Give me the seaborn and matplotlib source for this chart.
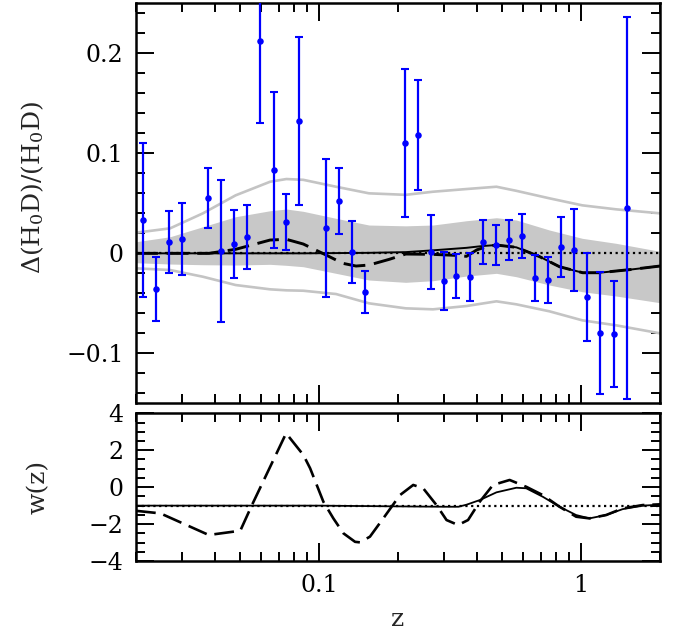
import numpy as np
import pandas as pd
import seaborn as sns
import matplotlib
matplotlib.use("Agg")
import matplotlib.pyplot as plt
from matplotlib.ticker import FixedLocator, FixedFormatter, MultipleLocator, NullFormatter, FuncFormatter

# binned data points
z_pts = [0.02125, 0.02375, 0.02668, 0.03001, 0.03770, 0.04223, 0.04747, 0.05319, 0.05963,
         0.06699, 0.07487, 0.08414, 0.1060, 0.1192, 0.1336, 0.1497, 0.2119, 0.2375, 0.2662,
         0.2983, 0.3343, 0.3757, 0.4209, 0.4718, 0.5287, 0.5941, 0.6658, 0.7487, 0.8414,
         0.9404, 1.057, 1.184, 1.331, 1.491]
d_pts = [0.033, -0.036, 0.011, 0.014, 0.055, 0.002, 0.009, 0.016, 0.212,
         0.083, 0.031, 0.132, 0.025, 0.052, 0.001, -0.039, 0.110, 0.118, 0.001,
         -0.028, -0.023, -0.024, 0.011, 0.008, 0.013, 0.017, -0.025, -0.027, 0.006,
         0.003, -0.044, -0.080, -0.081, 0.045]
e_pts = [0.077, 0.032, 0.031, 0.036, 0.030, 0.071, 0.034, 0.032, 0.082,
         0.078, 0.028, 0.084, 0.069, 0.033, 0.031, 0.021, 0.074, 0.055, 0.037,
         0.029, 0.022, 0.024, 0.022, 0.020, 0.020, 0.022, 0.023, 0.023, 0.030,
         0.041, 0.044, 0.061, 0.053, 0.191]

# confidence regions
z_band = [0.02, 0.027, 0.036, 0.048, 0.065, 0.075, 0.087, 0.116, 0.155, 0.214, 0.272,
          0.365, 0.475, 0.566, 0.757, 1.01, 1.36, 2.0]
band1_hi = [0.0116, 0.0166, 0.0266, 0.0366, 0.0426, 0.0443, 0.042, 0.035, 0.0283, 0.0275, 0.0283,
            0.0326, 0.0356, 0.0333, 0.0233, 0.015, 0.010, 0.002]
band1_lo = [-0.0094, -0.0107, -0.0114, -0.0117, -0.011, -0.012, -0.0134, -0.020, -0.0267, -0.029, -0.0274,
            -0.0227, -0.020, -0.0234, -0.0317, -0.0384, -0.0427, -0.0494]
band2_hi = [0.0206, 0.025, 0.040, 0.058, 0.0716, 0.0743, 0.0735, 0.0666, 0.060, 0.0585, 0.0616,
            0.0643, 0.0666, 0.0625, 0.055, 0.048, 0.044, 0.040]
band2_lo = [-0.015, -0.0167, -0.0234, -0.0317, -0.036, -0.037, -0.0374, -0.0407, -0.050, -0.055, -0.056,
            -0.0527, -0.048, -0.051, -0.058, -0.067, -0.072, -0.080]

# reconstructions, top panel
z_mean = [0.02, 0.087, 0.155, 0.214, 0.272, 0.365, 0.42, 0.475, 0.566, 0.694, 0.827, 1.014, 1.174, 1.572, 2.0]
d_mean = [0.0, 0.0, 0.0005, 0.0012, 0.003, 0.0055, 0.0073, 0.0083, 0.006, -0.0033, -0.0134, -0.0194, -0.0194, -0.016, -0.0127]
z_dash = [0.02, 0.038, 0.048, 0.065, 0.075, 0.087, 0.1063, 0.1231, 0.1383, 0.155, 0.1852, 0.214, 0.27,
          0.33, 0.365, 0.40, 0.44, 0.475, 0.566, 0.694, 0.827, 1.014, 1.174, 1.572, 2.0]
d_dash = [0.0, 0.0, 0.004, 0.0133, 0.014, 0.0093, -0.0017, -0.010, -0.0127, -0.0117, -0.006, -0.0007, -0.001,
          -0.002, -0.003, 0.0035, 0.007, 0.0083, 0.006, -0.0033, -0.0134, -0.0194, -0.0194, -0.016, -0.0127]

# w(z), bottom panel
z_wdash = [0.02, 0.0248, 0.0379, 0.0500, 0.0554, 0.0748, 0.0871, 0.0924, 0.1038, 0.1133, 0.1238, 0.1371,
           0.1432, 0.1563, 0.1757, 0.2034, 0.2286, 0.2495, 0.2805, 0.3063, 0.3391, 0.3701, 0.4101, 0.4608,
           0.5334, 0.6174, 0.7143, 0.8268, 0.9572, 1.0755, 1.245, 1.440, 1.716, 2.0]
w_dash = [-1.28, -1.42, -2.59, -2.36, -0.97, 2.92, 1.74, 1.02, -0.79, -1.69, -2.50, -2.96,
          -2.99, -2.68, -1.69, -0.43, 0.12, -0.06, -0.97, -1.78, -2.05, -1.78, -0.79, 0.12,
          0.39, 0.02, -0.43, -1.06, -1.60, -1.69, -1.51, -1.15, -0.97, -0.93]
z_wmean = [0.02, 0.1, 0.2, 0.3, 0.34, 0.365, 0.41, 0.475, 0.566, 0.617, 0.714, 0.827, 0.957, 1.0755,
           1.245, 1.44, 1.716, 2.0]
w_mean = [-1.0, -1.0, -1.04, -1.06, -1.06, -0.95, -0.70, -0.28, -0.03, -0.06, -0.52, -1.06, -1.51, -1.69,
          -1.51, -1.19, -1.0, -0.95]

x_ticks = [0.1, 1]
x_labels = ["0.1", "1"]

sns.set_theme(style="ticks")
plt.rcParams["font.family"] = ["DejaVu Serif"]
plt.rcParams["mathtext.fontset"] = "dejavuserif"
plt.rcParams["axes.unicode_minus"] = True

FS = 17
fig = plt.figure(figsize=(6.75, 6.3), dpi=100)
ax1 = fig.add_axes([0.2015, 0.3598, 0.7763, 0.6349])
ax2 = fig.add_axes([0.2015, 0.1095, 0.7763, 0.2344], sharex=ax1)

dash_style = (0, (7.5, 3.0))
dot_style = (0, (1, 1.6))

# top panel
ax1.fill_between(z_band, band1_lo, band1_hi, color="#c8c8c8", lw=0, zorder=1)
sns.lineplot(x=z_band, y=band2_hi, ax=ax1, color="#c4c4c4", lw=1.9, zorder=2)
sns.lineplot(x=z_band, y=band2_lo, ax=ax1, color="#c4c4c4", lw=1.9, zorder=2)
ax1.axhline(0, color="black", lw=1.6, linestyle=dot_style, zorder=3)
sns.lineplot(x=z_mean, y=d_mean, ax=ax1, color="black", lw=1.4, zorder=4)
sns.lineplot(x=z_dash, y=d_dash, ax=ax1, color="black", lw=2.1, linestyle=dash_style, zorder=4)
ax1.errorbar(z_pts, d_pts, yerr=e_pts, fmt="none", ecolor="#0000ff", elinewidth=1.6,
             capsize=3, capthick=1.5, zorder=5)
sns.scatterplot(x=z_pts, y=d_pts, ax=ax1, color="#0000ff", s=22, linewidth=0, zorder=6)

# bottom panel
ax2.axhline(-1, color="black", lw=1.6, linestyle=dot_style, zorder=2)
sns.lineplot(x=z_wmean, y=w_mean, ax=ax2, color="black", lw=1.3, zorder=3)
sns.lineplot(x=z_wdash, y=w_dash, ax=ax2, color="black", lw=1.9, linestyle=dash_style, zorder=3)

for ax in (ax1, ax2):
    ax.set_xscale("log")
    ax.set_xlim(0.02, 2)
    for s in ax.spines.values():
        s.set_linewidth(1.8)
        s.set_color("black")
    ax.tick_params(which="both", direction="in", top=True, right=True, colors="black",
                   labelsize=FS, pad=9)
    ax.tick_params(which="major", length=13, width=1.4)
    ax.tick_params(which="minor", length=6.5, width=1.4)

ax1.set_ylim(-0.15, 0.25)
ax1.yaxis.set_major_locator(MultipleLocator(0.1))
ax1.yaxis.set_minor_locator(MultipleLocator(0.02))
ax1.tick_params(axis="x", labelbottom=False)
ax2.set_ylim(-4, 4)
ax2.yaxis.set_major_locator(MultipleLocator(2))
ax2.yaxis.set_minor_locator(MultipleLocator(0.5))
fmt = FuncFormatter(lambda v, p: ("%g" % round(v, 6)).replace("-", "\u2212"))
ax1.yaxis.set_major_formatter(fmt)
ax2.yaxis.set_major_formatter(fmt)
ax2.xaxis.set_major_locator(FixedLocator(x_ticks))
ax2.xaxis.set_major_formatter(FixedFormatter(x_labels))
ax2.xaxis.set_minor_formatter(NullFormatter())

ax1.set_xlabel("")
ax1.set_ylabel(r"$\Delta(\mathrm{H_0D})/(\mathrm{H_0D})$", fontsize=FS + 1)
ax1.yaxis.set_label_coords(-0.172, 0.54)
ax2.set_ylabel("w(z)", fontsize=FS + 1)
ax2.yaxis.set_label_coords(-0.164, 0.5)
ax2.set_xlabel("z", fontsize=FS + 1, labelpad=8)

fig.savefig("out.png", dpi=100)
